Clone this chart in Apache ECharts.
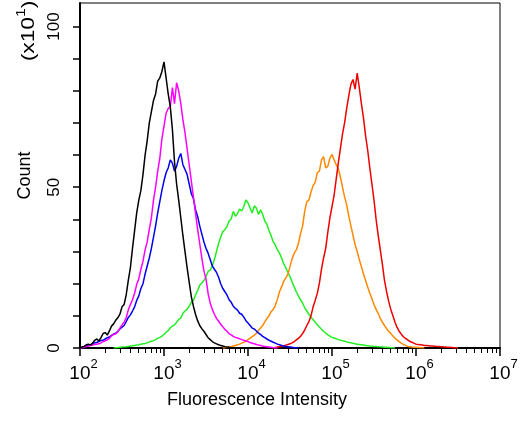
<!DOCTYPE html>
<html>
<head>
<meta charset="utf-8">
<script src="https://cdn.jsdelivr.net/npm/echarts@6/dist/echarts.min.js"></script>
<style>
html,body{margin:0;padding:0;background:#fff;}
#chart{width:524px;height:429px;}
</style>
</head>
<body>
<div id="chart"></div>
<script>
// x bins are log10 exponents, step between bins
const expStep = 0.025;
const xTickExponents = [2, 3, 4, 5, 6, 7];
const yTickValues = [0, 10, 20, 30, 40, 50, 60, 70, 80, 90, 100];
const yLabelValues = [0, 50, 100];

const blackStart = 2.00;
const blackVals = [0,0.3,0.5,1.0,1.2,0.9,1.5,2.4,2.8,2.2,3.2,4.5,4.8,4.0,5.3,6.8,7.5,8.6,9.4,10.5,12.8,13.5,16.5,21,25,31,36.5,42,46,49,54,60,64.5,70,73.5,77,79,83,84,86,89,84,79,75,68,58,51,46,40.5,35,30,25,20.5,16,13,10.5,8.5,7,6,5.2,4.2,3.2,2.6,2,1.6,1.3,1,0.8,0.6,0.4,0.3,0.2,0.1,0.05,0];

const magentaStart = 2.00;
const magentaVals = [0,0.1,0.3,0.5,0.6,0.8,0.9,1.1,1.2,1.3,1.6,2.0,2.2,2.5,3,3.8,4.2,4.4,5,6.2,7.2,8.0,9.5,11.8,13.5,15.0,17,19.8,21.5,24.5,27,30.5,33,37,40.5,46,50,55,59,65,69,73,74.5,75,81,76,82.5,80,76,71,67,62,57,52,47,42,37,32.5,28,24,21.5,17,14,12,10.5,9.2,8.3,7.4,6.6,5.8,5.2,4.5,4.1,3.6,3.3,3.1,2.9,2.6,2.4,2.2,2,1.7,1.5,1.3,1.1,0.9,0.8,0.6,0.5,0.4,0.3,0.2,0.1,0.05,0];

const blueStart = 2.00;
const blueVals = [0,0.2,0.4,0.7,0.8,1.0,1.3,1.6,1.7,2.1,2.3,2.4,2.8,3.2,3.4,3.9,4.3,4.6,5.2,5.9,6.5,7.0,8.2,9.5,10.3,11.5,12.8,14.8,16.2,18.5,20,23,25.5,28,31,34.5,38,42,45.5,49,52,54.5,56,58.5,57.5,55,56.5,59,60.5,57,55.5,54,51,48,46.5,43,41,38,35.5,33,31,29.5,27.5,25.5,24.5,23.5,22,20,18.5,17.5,16.5,15,14.2,13,12.3,11.8,10.8,10.5,9.6,8.5,7.8,7,6.2,5.9,5.3,4.6,4.2,3.6,3.2,2.8,2.4,2.1,1.8,1.5,1.2,1.0,0.8,0.6,0.5,0.4,0.3,0.2,0.1,0.05,0];

const greenStart = 2.40;
const greenVals = [0,0.05,0.1,0.2,0.3,0.35,0.4,0.5,0.6,0.7,0.8,0.9,1,1.2,1.3,1.4,1.6,1.9,2.1,2.3,2.6,3.0,3.3,3.7,4.2,4.9,5.4,6.3,6.8,7.2,8,8.9,9.3,10.8,11.5,12.0,13,14.2,14.8,16.5,17.8,19.5,20.2,21.0,22.3,23.8,24.2,25.5,27.5,30,32.5,34.5,36.2,36.8,37.8,39.5,40.2,42.5,41,41.8,43.2,42.6,44,46,45.2,43.5,42,44.2,43.5,41.5,43,41.5,39.5,38.5,36.5,35,33,32,30.5,29.5,28,26.2,25,23.5,22.2,20.5,19,17.5,16.2,15,14,12.5,11.5,10.5,9.6,8.8,8,7.2,6.5,5.8,5.2,4.6,4.1,3.7,3.3,3.1,2.9,2.6,2.4,2.3,2.1,1.9,1.7,1.6,1.5,1.3,1.2,1.1,1,0.9,0.8,0.7,0.6,0.55,0.5,0.45,0.4,0.35,0.3,0.25,0.2,0.15,0.1,0.05,0];

const orangeStart = 3.70;
const orangeVals = [0,0.1,0.2,0.3,0.4,0.6,0.8,1.0,1.2,1.5,1.8,2.1,2.6,3.1,3.5,4.0,4.6,5.5,6.2,7.0,8.1,9.2,10,11.3,12,13.2,15.2,17.5,19,20.8,21.8,23,25.3,27.8,29.5,30.5,32.5,35.5,38,42.5,45.5,46,48.5,50.5,51.5,54.5,55,58.5,59.5,56,56.5,59,60.2,58.5,57,55.8,53.2,50,47,44.5,41,38,35,32.2,30,27.5,25.3,23,21,19,17,15.3,13.5,12,10.8,9.2,8,7,6,5.2,4.5,3.7,3,2.5,2,1.5,1.1,0.8,0.5,0.4,0.3,0.25,0.2,0.15,0.1,0.05,0];

const redStart = 4.30;
const redVals = [0,0.15,0.3,0.4,0.5,0.7,0.9,1.1,1.3,1.6,2,2.5,3,3.6,4.5,5.6,7,8.2,10,12.8,14.8,17,20.2,24.5,28,31,36,40.5,44,47.5,52.5,57.5,62,66.5,70,74.5,78.5,82,83.5,80.5,85.5,81,76,71.5,66,61.5,56,51,46,40,35,30.5,26,21,17.5,14.5,12,10,8,6.4,5.2,4.3,3.5,3.0,2.5,2.1,1.8,1.5,1.2,1.1,1,0.9,0.8,0.75,0.7,0.65,0.6,0.55,0.5,0.45,0.4,0.35,0.3,0.25,0.2,0.15,0.1,0.05,0];

function toPairs(start, vals) {
  return vals.map((v, i) => [Math.pow(10, start + i * expStep), v]);
}

const majorTicks = xTickExponents.map(e => Math.pow(10, e));
const minorTicks = [];
for (let e = 2; e < 7; e++) {
  for (let m = 2; m <= 9; m++) minorTicks.push(m * Math.pow(10, e));
}

const seriesDefs = [
  { name: 'green', color: '#22ee22', start: greenStart, vals: greenVals },
  { name: 'orange', color: '#ff8800', start: orangeStart, vals: orangeVals },
  { name: 'red', color: '#ee0000', start: redStart, vals: redVals },
  { name: 'blue', color: '#0000ee', start: blueStart, vals: blueVals },
  { name: 'magenta', color: '#ff00ff', start: magentaStart, vals: magentaVals },
  { name: 'black', color: '#000000', start: blackStart, vals: blackVals }
];

const FONT = "'Liberation Sans', Arial, sans-serif";

const chart = echarts.init(document.getElementById('chart'), null, { renderer: 'canvas' });
chart.setOption({
  animation: false,
  backgroundColor: '#ffffff',
  grid: {
    left: 80, right: 24, top: 3, bottom: 81,
    show: true, borderColor: '#000', borderWidth: 1, backgroundColor: 'transparent'
  },
  xAxis: [
    {
      type: 'log', logBase: 10, min: 100, max: 1e7, position: 'bottom',
      name: 'Fluorescence Intensity', nameLocation: 'middle', nameGap: 43,
      nameTextStyle: { fontFamily: FONT, fontSize: 18, color: '#000', padding: [0, 66, 0, 0] },
      axisLine: { show: true, lineStyle: { color: '#000', width: 2 } },
      axisTick: { show: true, length: 8, customValues: majorTicks, lineStyle: { color: '#000', width: 1.5 } },
      axisLabel: {
        show: true, margin: 10, customValues: majorTicks,
        formatter: v => '{b|10}{s|' + Math.round(Math.log10(v)) + '}',
        rich: {
          b: { fontFamily: FONT, fontSize: 19, color: '#000', verticalAlign: 'bottom', padding: [0, 0, 0, 7] },
          s: { fontFamily: FONT, fontSize: 13, color: '#000', verticalAlign: 'bottom', padding: [0, 0, 12, 0] }
        }
      },
      splitLine: { show: false }
    },
    {
      type: 'log', logBase: 10, min: 100, max: 1e7, position: 'bottom',
      axisLine: { show: false },
      axisTick: { show: true, length: 5, customValues: minorTicks, lineStyle: { color: '#000', width: 1 } },
      axisLabel: { show: false },
      splitLine: { show: false }
    }
  ],
  yAxis: {
    type: 'value', min: 0, max: 107.3,
    name: 'Count', nameLocation: 'middle', nameGap: 46, nameRotate: 90,
    nameTextStyle: { fontFamily: FONT, fontSize: 18, color: '#000' },
    axisLine: { show: true, lineStyle: { color: '#000', width: 2 } },
    axisTick: { show: true, length: 7, customValues: yTickValues, lineStyle: { color: '#000', width: 1.5 } },
    axisLabel: {
      show: true, rotate: 90, margin: 17, customValues: yLabelValues,
      fontFamily: FONT, fontSize: 17, color: '#000'
    },
    splitLine: { show: false }
  },
  graphic: [
    {
      type: 'text', x: 38, y: 31, rotation: Math.PI / 2, scaleX: 1.2, scaleY: 1,
      style: {
        text: '{a|(x10}{b|1}{a|)}',
        align: 'center', verticalAlign: 'bottom',
        rich: {
          a: { fontFamily: FONT, fontSize: 19, fill: '#000', verticalAlign: 'bottom' },
          b: { fontFamily: FONT, fontSize: 13, fill: '#000', verticalAlign: 'bottom', padding: [0, 0, 10, 0] }
        }
      }
    }
  ],
  series: seriesDefs.map(s => ({
    name: s.name, type: 'line', xAxisIndex: 0,
    data: toPairs(s.start, s.vals),
    showSymbol: false, symbol: 'none', smooth: false,
    lineStyle: { color: s.color, width: 1.5 },
    itemStyle: { color: s.color },
    emphasis: { disabled: true }
  }))
});
</script>
</body>
</html>
